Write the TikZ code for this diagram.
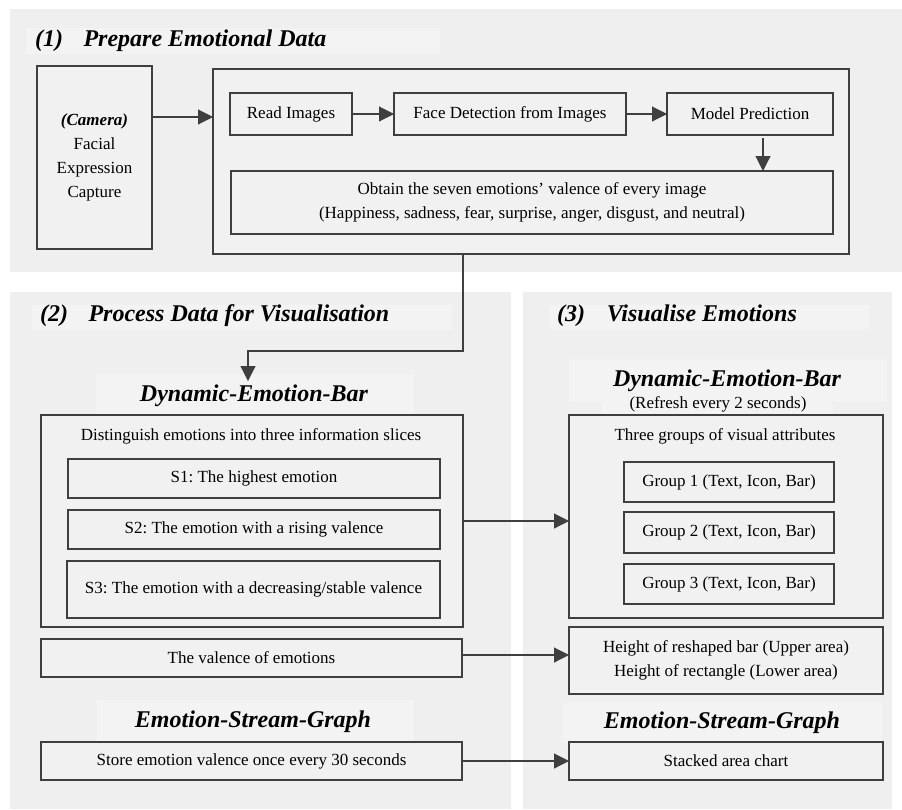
\documentclass[tikz,border=0pt]{standalone}
\usepackage{fontspec}
\setmainfont{Liberation Serif}
\frenchspacing
\usetikzlibrary{arrows.meta}
\definecolor{panelgray}{HTML}{EFEFEF}
\definecolor{titlebg}{HTML}{F3F3F3}
\definecolor{boxfill}{HTML}{F1F1F1}
\definecolor{linecol}{HTML}{3F3F3F}
\tikzset{
  box/.style={draw=linecol, line width=1.1pt, fill=boxfill, inner sep=0pt, outer sep=0pt,
    font=\fontsize{17}{24}\selectfont, align=center},
  plain/.style={inner sep=0pt, font=\fontsize{17}{24}\selectfont, align=center},
  ttl/.style={inner sep=0pt, font=\fontsize{24}{28}\selectfont\bfseries\itshape},
  arr/.style={draw=linecol, line width=1.1pt, -{Triangle[length=15pt,width=15pt]}},
  conn/.style={draw=linecol, line width=1.1pt}
}
\begin{document}
\begin{tikzpicture}[x=1pt,y=-1pt]
\useasboundingbox (0,0) rectangle (902,809);
\fill[white] (0,0) rectangle (902,809);
% panels
\fill[panelgray] (10,9) rectangle (902,272);
\fill[panelgray] (10,292) rectangle (511,809);
\fill[panelgray] (523,292) rectangle (892,809);
% title backgrounds
\fill[titlebg] (26,28) rectangle (440,54);
\fill[titlebg] (32,305) rectangle (452,330);
\fill[titlebg] (549,305) rectangle (869,330);
\fill[titlebg] (96,374) rectangle (414,415);
\fill[titlebg] (569,359) rectangle (887,402);
\fill[titlebg] (602,402) rectangle (833,415);
\fill[titlebg] (97,700) rectangle (414,742);
\fill[titlebg] (563,702) rectangle (882,742);
% titles
\node[ttl, anchor=west] (t1) at (35,41) {(1)\hspace{0.85em}Prepare Emotional Data};
\node[ttl, anchor=west] (t2) at (40,316) {(2)\hspace{0.85em}Process Data for Visualisation};
\node[ttl, anchor=west] (t3) at (557,316) {(3)\hspace{0.9em}Visualise Emotions};
% part 1
\node[box, minimum width=115pt, minimum height=183pt] (cam) at (94.5,157.5)
  {\fontsize{17}{25.7}\selectfont\textbf{\textit{(Camera)}}\\Facial\\Expression\\Capture};
\node[box, minimum width=636pt, minimum height=185pt] (big) at (531,161.5) {};
\node[box, minimum width=122pt, minimum height=42pt] (read) at (291,114) {Read Images};
\node[box, minimum width=232pt, minimum height=42pt] (face) at (510,114) {Face Detection from Images};
\node[box, minimum width=166pt, minimum height=42pt] (model) at (750,114) {Model Prediction};
\node[box, minimum width=602pt, minimum height=63pt] (obtain) at (532,202.5)
  {Obtain the seven emotions’ valence of every image\\(Happiness, sadness, fear, surprise, anger, disgust, and neutral)};
\draw[arr] ([yshift=-3pt]cam.east |- read.west) -- ([yshift=-3pt]big.west |- read.west);
\draw[arr] (read.east) -- (face.west);
\draw[arr] (face.east) -- (model.west);
\draw[arr] ([xshift=13pt,yshift=-3pt]model.south) -- ([xshift=13pt]model.south |- obtain.north);
% part 2
\node[ttl] (deb1) at (254,396) {Dynamic-Emotion-Bar};
\node[box, minimum width=422pt, minimum height=212pt] (dist) at (252,521) {};
\node[plain] (distt) at (251,436) {Distinguish emotions into three information slices};
\node[box, minimum width=372pt, minimum height=39pt] (s1) at (254,478.5) {S1: The highest emotion};
\node[box, minimum width=372pt, minimum height=39pt] (s2) at (254,529.5) {S2: The emotion with a rising valence};
\node[box, minimum width=373pt, minimum height=57pt] (s3) at (253.5,589.5) {S3: The emotion with a decreasing/stable valence};
\node[box, minimum width=421pt, minimum height=38pt] (val) at (251.5,658) {The valence of emotions};
\node[ttl] (esg1) at (253,722) {Emotion-Stream-Graph};
\node[box, minimum width=421pt, minimum height=38pt] (store) at (251.5,761) {Store emotion valence once every 30 seconds};
% part 3
\node[ttl] (deb2) at (727,381) {Dynamic-Emotion-Bar};
\node[plain] (refresh) at (718,404) {(Refresh every 2 seconds)};
\node[box, minimum width=314pt, minimum height=203pt] (groups) at (726,516.5) {};
\node[plain] (groupst) at (725,436) {Three groups of visual attributes};
\node[box, minimum width=210pt, minimum height=40pt] (g1) at (729,482) {Group 1 (Text, Icon, Bar)};
\node[box, minimum width=210pt, minimum height=41pt] (g2) at (729,532.5) {Group 2 (Text, Icon, Bar)};
\node[box, minimum width=210pt, minimum height=40pt] (g3) at (729,584) {Group 3 (Text, Icon, Bar)};
\node[box, minimum width=314pt, minimum height=67pt] (height) at (726,660.5)
  {\fontsize{17}{22}\selectfont Height of reshaped bar (Upper area)\\Height of rectangle (Lower area)};
\node[ttl] (esg2) at (722,723) {Emotion-Stream-Graph};
\node[box, minimum width=314pt, minimum height=38pt] (stacked) at (726,761) {Stacked area chart};
% connectors between parts
\coordinate (tap) at (463,351);
\coordinate (turn) at (248,351);
\coordinate (tip) at (248,381);
\draw[arr] (big.south -| tap) -- (tap) -- (turn) -- (tip);
\draw[arr] (dist.east) -- (dist.east -| groups.west);
\draw[arr] ([yshift=3pt]val.east) -- ([yshift=3pt]val.east -| height.west);
\draw[arr] (store.east) -- (store.east -| stacked.west);
\end{tikzpicture}
\end{document}
